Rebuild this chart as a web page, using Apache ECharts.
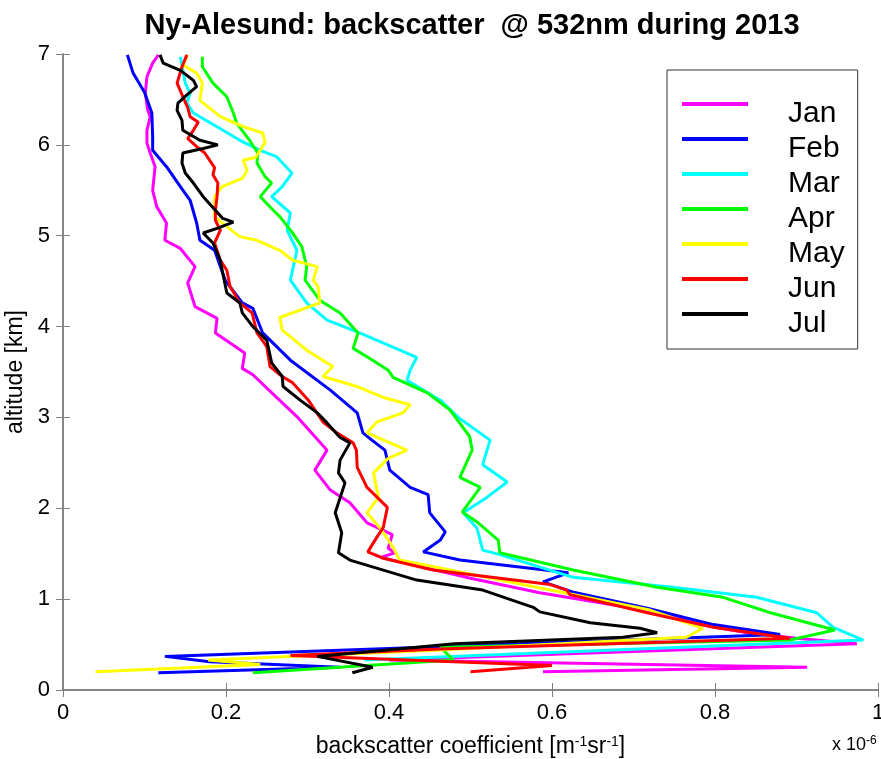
<!DOCTYPE html>
<html>
<head>
<meta charset="utf-8">
<script src="https://cdn.jsdelivr.net/npm/echarts@6/dist/echarts.min.js"></script>
<style>
html, body { margin: 0; padding: 0; background: #fff; }
#main { width: 881px; height: 759px; }
</style>
</head>
<body>
<div id="main"></div>
<script>
var font = "'Liberation Sans', Arial, sans-serif";
var months = ['Jan', 'Feb', 'Mar', 'Apr', 'May', 'Jun', 'Jul'];
var colors = ['#ff00ff', '#0000ff', '#00ffff', '#00ff00', '#ffff00', '#ff0000', '#000000'];
var xTicks = [0, 0.2, 0.4, 0.6, 0.8, 1];
var yTicks = [0, 1, 2, 3, 4, 5, 6, 7];

// altitude [km] and backscatter [1e-6 m-1 sr-1] per month, top to bottom
var janAlt = [6.99, 6.9, 6.75, 6.57, 6.38, 6.31, 6.16, 6.02, 5.91, 5.76, 5.5, 5.32, 5.14, 4.95, 4.86, 4.66, 4.48, 4.22, 4.09, 3.93, 3.71, 3.54, 3.47, 3.22, 3.0, 2.81, 2.64, 2.42, 2.2, 2.06, 1.84, 1.71, 1.56, 1.51, 1.46, 1.23, 1.07, 0.9, 0.69, 0.63, 0.57, 0.51, 0.33, 0.25, 0.2];
var janVal = [0.117, 0.11, 0.103, 0.101, 0.104, 0.107, 0.103, 0.103, 0.107, 0.113, 0.11, 0.115, 0.127, 0.125, 0.144, 0.162, 0.153, 0.162, 0.189, 0.187, 0.223, 0.22, 0.233, 0.262, 0.288, 0.307, 0.324, 0.309, 0.328, 0.352, 0.373, 0.404, 0.399, 0.407, 0.39, 0.5, 0.585, 0.7, 0.8, 0.84, 0.9, 0.974, 0.4, 0.913, 0.589];

var febAlt = [6.99, 6.79, 6.58, 6.35, 6.09, 5.94, 5.76, 5.54, 5.39, 5.14, 4.95, 4.84, 4.51, 4.26, 4.2, 3.93, 3.63, 3.3, 3.05, 2.83, 2.75, 2.64, 2.42, 2.23, 2.15, 1.95, 1.74, 1.65, 1.52, 1.43, 1.29, 1.19, 1.08, 0.9, 0.72, 0.61, 0.37, 0.31, 0.25, 0.19];
var febVal = [0.079, 0.086, 0.1, 0.109, 0.11, 0.11, 0.127, 0.144, 0.156, 0.164, 0.168, 0.186, 0.199, 0.22, 0.233, 0.245, 0.279, 0.328, 0.361, 0.368, 0.379, 0.395, 0.401, 0.426, 0.448, 0.45, 0.469, 0.463, 0.442, 0.487, 0.62, 0.589, 0.625, 0.717, 0.798, 0.88, 0.125, 0.18, 0.34, 0.117];

var marAlt = [6.97, 6.68, 6.57, 6.46, 6.35, 6.2, 6.05, 5.94, 5.87, 5.69, 5.54, 5.43, 5.25, 5.06, 4.84, 4.51, 4.26, 4.07, 3.93, 3.66, 3.52, 3.41, 3.19, 3.0, 2.75, 2.48, 2.29, 2.12, 1.95, 1.78, 1.54, 1.49, 1.24, 1.13, 1.02, 0.85, 0.69, 0.55, 0.33];
var marVal = [0.144, 0.15, 0.156, 0.152, 0.16, 0.189, 0.217, 0.242, 0.262, 0.281, 0.269, 0.256, 0.279, 0.275, 0.287, 0.279, 0.299, 0.324, 0.364, 0.434, 0.426, 0.422, 0.463, 0.485, 0.524, 0.515, 0.545, 0.52, 0.491, 0.508, 0.515, 0.536, 0.626, 0.748, 0.851, 0.925, 0.945, 0.982, 0.37];

var aprAlt = [6.97, 6.86, 6.68, 6.53, 6.35, 6.24, 6.05, 5.91, 5.8, 5.65, 5.58, 5.43, 5.28, 5.21, 5.04, 4.88, 4.66, 4.51, 4.29, 4.15, 3.93, 3.76, 3.63, 3.52, 3.44, 3.27, 3.08, 2.79, 2.64, 2.34, 2.23, 1.96, 1.85, 1.65, 1.51, 1.32, 1.13, 1.02, 0.85, 0.66, 0.55, 0.47, 0.33, 0.19];
var aprVal = [0.171, 0.171, 0.184, 0.201, 0.209, 0.213, 0.229, 0.239, 0.238, 0.248, 0.256, 0.242, 0.258, 0.266, 0.281, 0.293, 0.299, 0.297, 0.315, 0.34, 0.362, 0.356, 0.38, 0.399, 0.405, 0.447, 0.475, 0.499, 0.502, 0.487, 0.512, 0.49, 0.508, 0.534, 0.536, 0.626, 0.729, 0.81, 0.868, 0.947, 0.892, 0.463, 0.479, 0.233];

var mayAlt = [6.99, 6.88, 6.79, 6.68, 6.49, 6.31, 6.2, 6.13, 6.03, 5.94, 5.86, 5.83, 5.72, 5.63, 5.54, 5.43, 5.21, 5.1, 4.99, 4.95, 4.84, 4.73, 4.66, 4.51, 4.44, 4.26, 4.1, 3.96, 3.89, 3.74, 3.56, 3.45, 3.34, 3.22, 3.14, 3.05, 2.95, 2.83, 2.64, 2.55, 2.39, 2.12, 1.95, 1.76, 1.57, 1.43, 1.32, 1.1, 0.88, 0.68, 0.58, 0.44, 0.33, 0.28, 0.2];
var mayVal = [0.153, 0.147, 0.164, 0.171, 0.168, 0.193, 0.221, 0.245, 0.248, 0.242, 0.236, 0.221, 0.226, 0.22, 0.195, 0.186, 0.186, 0.201, 0.217, 0.238, 0.266, 0.282, 0.312, 0.307, 0.313, 0.315, 0.266, 0.269, 0.279, 0.299, 0.331, 0.319, 0.361, 0.393, 0.426, 0.417, 0.385, 0.373, 0.422, 0.399, 0.381, 0.387, 0.373, 0.391, 0.405, 0.413, 0.475, 0.598, 0.72, 0.785, 0.765, 0.463, 0.178, 0.242, 0.04];

var junAlt = [6.99, 6.86, 6.68, 6.53, 6.41, 6.31, 6.25, 6.16, 6.07, 5.98, 5.91, 5.83, 5.75, 5.67, 5.58, 5.43, 5.28, 5.17, 5.06, 4.92, 4.73, 4.62, 4.44, 4.26, 4.15, 3.93, 3.78, 3.56, 3.45, 3.38, 3.19, 2.95, 2.83, 2.72, 2.64, 2.45, 2.23, 2.01, 1.79, 1.68, 1.52, 1.45, 1.32, 1.23, 1.16, 1.1, 1.05, 0.85, 0.69, 0.57, 0.45, 0.38, 0.27, 0.2];
var junVal = [0.152, 0.146, 0.14, 0.147, 0.153, 0.156, 0.166, 0.16, 0.153, 0.164, 0.174, 0.18, 0.186, 0.184, 0.19, 0.189, 0.187, 0.187, 0.193, 0.186, 0.193, 0.201, 0.205, 0.217, 0.232, 0.238, 0.25, 0.254, 0.269, 0.282, 0.301, 0.319, 0.336, 0.356, 0.36, 0.361, 0.373, 0.398, 0.393, 0.385, 0.374, 0.393, 0.454, 0.536, 0.598, 0.618, 0.622, 0.717, 0.798, 0.892, 0.463, 0.279, 0.6, 0.5];

var julAlt = [6.99, 6.9, 6.82, 6.71, 6.64, 6.55, 6.46, 6.38, 6.27, 6.16, 6.05, 6.0, 5.96, 5.91, 5.8, 5.69, 5.58, 5.43, 5.28, 5.19, 5.15, 5.08, 5.03, 4.92, 4.73, 4.59, 4.37, 4.26, 4.15, 4.0, 3.85, 3.6, 3.45, 3.34, 3.19, 3.05, 2.94, 2.78, 2.72, 2.53, 2.39, 2.28, 1.95, 1.73, 1.51, 1.43, 1.21, 1.1, 0.91, 0.86, 0.74, 0.68, 0.63, 0.58, 0.51, 0.37, 0.25, 0.19];
var julVal = [0.119, 0.123, 0.144, 0.16, 0.164, 0.152, 0.141, 0.14, 0.146, 0.147, 0.168, 0.19, 0.172, 0.147, 0.146, 0.15, 0.16, 0.172, 0.187, 0.196, 0.209, 0.189, 0.172, 0.184, 0.193, 0.196, 0.201, 0.217, 0.22, 0.233, 0.25, 0.256, 0.269, 0.27, 0.291, 0.312, 0.324, 0.34, 0.352, 0.34, 0.338, 0.346, 0.334, 0.342, 0.338, 0.352, 0.434, 0.515, 0.577, 0.585, 0.647, 0.708, 0.729, 0.687, 0.48, 0.312, 0.38, 0.355];

var profiles = [
	[janVal, janAlt], [febVal, febAlt], [marVal, marAlt], [aprVal, aprAlt],
	[mayVal, mayAlt], [junVal, junAlt], [julVal, julAlt]
];

function pairs(xs, ys) {
	var out = [];
	for (var i = 0; i < xs.length; i++) out.push([xs[i], ys[i]]);
	return out;
}

var axisColor = '#7f7f7f';
function frameAxis(pos, ticks, labels) {
	return {
		type: 'value',
		position: pos,
		min: ticks[0],
		max: ticks[ticks.length - 1],
		interval: ticks[1] - ticks[0],
		axisLine: { show: true, lineStyle: { color: axisColor, width: 1.5 } },
		axisTick: { show: true, inside: true, length: 7, lineStyle: { color: axisColor, width: 1 } },
		axisLabel: { show: labels },
		splitLine: { show: false }
	};
}

var supStyle = { fontSize: 14, fontFamily: font, verticalAlign: 'top', padding: [0, 0, 10, 0] };

var xBottom = frameAxis('bottom', xTicks, true);
xBottom.axisLabel = {
	show: true, color: '#000', fontSize: 22, fontFamily: font, margin: 12,
	formatter: function(v) { return (v === 0 || v === 1) ? String(v) : v.toFixed(1); }
};
xBottom.name = 'backscatter coefficient [m{sup|-1}sr{sup|-1}]';
xBottom.nameLocation = 'middle';
xBottom.nameGap = 45;
xBottom.nameTextStyle = { color: '#000', fontSize: 23, fontFamily: font, rich: { sup: supStyle } };

var yLeft = frameAxis('left', yTicks, true);
yLeft.axisLabel = { show: true, color: '#000', fontSize: 22, fontFamily: font, margin: 13 };
yLeft.name = 'altitude [km]';
yLeft.nameLocation = 'middle';
yLeft.nameGap = 29;
yLeft.nameTextStyle = { color: '#000', fontSize: 23, fontFamily: font };

var myChart = echarts.init(document.getElementById('main'));
var option = {
	backgroundColor: '#fff',
	animation: false,
	title: {
		text: 'Ny-Alesund: backscatter  @ 532nm during 2013',
		left: 467,
		top: 6,
		textAlign: 'center',
		textStyle: { color: '#000', fontSize: 29, fontWeight: 'bold', fontFamily: font }
	},
	grid: { left: 63, right: 3, top: 54, bottom: 69, containLabel: false, outerBoundsMode: 'none' },
	xAxis: [xBottom, frameAxis('top', xTicks, false)],
	yAxis: [yLeft, frameAxis('right', yTicks, false)],
	legend: {
		orient: 'vertical',
		left: 667,
		top: 70,
		data: months,
		icon: 'rect',
		itemWidth: 66,
		itemHeight: 4,
		itemGap: -15,
		padding: [9, 13, 10, 15],
		borderColor: '#333',
		borderWidth: 1,
		backgroundColor: '#fff',
		formatter: '{t|{name}}',
		textStyle: {
			color: '#000', fontSize: 30, fontFamily: font,
			rich: { t: { fontSize: 30, fontFamily: font, color: '#000', padding: [20, 0, 0, 35], lineHeight: 30 } }
		}
	},
	graphic: [{
		type: 'text',
		left: 832,
		top: 735,
		style: {
			text: 'x 10{sup|-6}',
			fill: '#000',
			font: '18px ' + font,
			rich: { sup: { fontSize: 12, fontFamily: font, verticalAlign: 'top', padding: [0, 0, 9, 0] } }
		}
	}],
	series: profiles.map(function(p, i) {
		return {
			name: months[i],
			type: 'line',
			data: pairs(p[0], p[1]),
			showSymbol: false,
			symbol: 'none',
			lineStyle: { color: colors[i], width: 3 },
			itemStyle: { color: colors[i] },
			z: 2 + i
		};
	})
};
myChart.setOption(option);
</script>
</body>
</html>
